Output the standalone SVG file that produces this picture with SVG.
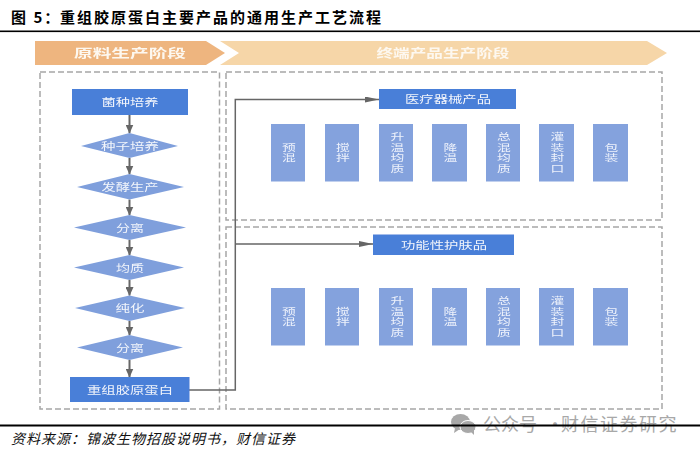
<svg xmlns="http://www.w3.org/2000/svg" width="700" height="452" viewBox="0 0 700 452">
<style>
text{font-family:"Noto Sans CJK SC","Noto Sans",sans-serif;text-anchor:middle}
.box{fill:#fff;stroke:#a6a6a6;stroke-width:1.5;stroke-dasharray:6 3}
.main{fill:#4a7fd8}
.dia{fill:#7f9fdc}
.step{fill:#84a2dd}
.lab{fill:#f2f5fb;font-size:10.500px}
.sl{fill:#eef2fb;font-size:9.500px;transform-box:fill-box;transform-origin:center;transform:scaleX(1.45)}
.ban{fill:#fdf8f0;font-size:12.500px;font-weight:700}
.con{fill:none;stroke:#666;stroke-width:1.500}
.vert{fill:none;stroke:#666;stroke-width:2;marker-end:url(#a)}
</style>
<defs>
<marker id="a" markerUnits="userSpaceOnUse" markerWidth="9" markerHeight="8" refX="8.500" refY="4" orient="auto"><path d="M0 0L9 4L0 8Z" fill="#666"/></marker>
<marker id="b" markerUnits="userSpaceOnUse" markerWidth="14" markerHeight="6" refX="14" refY="3" orient="auto"><path d="M0 0L14 3L0 6Z" fill="#666"/></marker>
<filter id="s" x="-2%" y="-2%" width="104%" height="104%"><feGaussianBlur stdDeviation="0.4"/></filter>
</defs>
<rect width="700" height="452" fill="#fff"/>
<g id="title">
<text x="11" y="23" style="text-anchor:start;font-size:15px;font-weight:700" fill="#000"><tspan style="letter-spacing:2px">图 5：</tspan><tspan x="60" style="letter-spacing:2px">重组胶原蛋白主要产品的通用生产工艺流程</tspan></text>
<rect x="0" y="30.500" width="700" height="1.600" fill="#000"/>
</g>
<g id="stages" filter="url(#s)">
<path d="M35 41H206L225 53L206 65H35Z" fill="#eeb57f"/>
<path d="M220 41H647L667 53L647 65H220L239 53Z" fill="#f6d6a8"/>
<text class="ban" x="130" y="57.500" textLength="112" lengthAdjust="spacingAndGlyphs">原料生产阶段</text>
<text class="ban" x="443" y="57.500" textLength="133" lengthAdjust="spacingAndGlyphs">终端产品生产阶段</text>
</g>
<g id="panels">
<rect class="box" x="40" y="72" width="179.500" height="337"/>
<rect class="box" x="226" y="72" width="436" height="148"/>
<rect class="box" x="226" y="227" width="436" height="182"/>
</g>
<g id="connectors">
<path class="vert" d="M129.500 115V133"/>
<path class="vert" d="M129.500 158V174"/>
<path class="vert" d="M129.500 199.500V215"/>
<path class="vert" d="M129.500 240V255"/>
<path class="vert" d="M129.500 280V295.500"/>
<path class="vert" d="M129.500 321V335"/>
<path class="vert" d="M129.500 360V377"/>
<path class="con" d="M189 390H235.300V99.500H379" marker-end="url(#b)"/>
<path class="con" d="M235.300 244H373" marker-end="url(#b)"/>
</g>
<g filter="url(#s)">
<g id="n1"><rect class="main" x="72" y="89" width="116" height="26"/><text class="lab" x="130" y="106" textLength="57" lengthAdjust="spacingAndGlyphs">菌种培养</text></g>
<g id="n2"><path class="dia" d="M81 146L129.500 133L178 146L129.500 158Z"/><text class="lab" x="130" y="150" textLength="58" lengthAdjust="spacingAndGlyphs">种子培养</text></g>
<g id="n3"><path class="dia" d="M77 187L129.500 174L184 187L129.500 199.500Z"/><text class="lab" x="130" y="190.500" textLength="57" lengthAdjust="spacingAndGlyphs">发酵生产</text></g>
<g id="n4"><path class="dia" d="M74 227.500L129.500 215L186 227.500L129.500 240Z"/><text class="lab" x="130" y="231.500" textLength="28" lengthAdjust="spacingAndGlyphs">分离</text></g>
<g id="n5"><path class="dia" d="M74 267.500L129.500 255L184 267.500L129.500 280Z"/><text class="lab" x="130" y="271.500" textLength="28" lengthAdjust="spacingAndGlyphs">均质</text></g>
<g id="n6"><path class="dia" d="M75 308L129.500 295.500L185 308L129.500 321Z"/><text class="lab" x="130" y="312" textLength="29" lengthAdjust="spacingAndGlyphs">纯化</text></g>
<g id="n7"><path class="dia" d="M77 347.500L129.500 335L183 347.500L129.500 360Z"/><text class="lab" x="130" y="351.500" textLength="28" lengthAdjust="spacingAndGlyphs">分离</text></g>
<g id="n8"><rect class="main" x="70" y="377" width="119.500" height="25"/><text class="lab" x="130" y="393.500" textLength="86" lengthAdjust="spacingAndGlyphs">重组胶原蛋白</text></g>
<g id="p1"><rect class="main" x="379" y="89" width="137" height="20"/><text class="lab" x="448" y="103" textLength="86" lengthAdjust="spacingAndGlyphs">医疗器械产品</text></g>
<g id="p2"><rect class="main" x="373" y="234.500" width="141" height="20.500"/><text class="lab" x="444" y="248.500" textLength="86" lengthAdjust="spacingAndGlyphs">功能性护肤品</text></g>
<g id="a1"><rect class="step" x="271" y="124" width="34" height="57.500"/><text class="sl" x="289" y="151">预</text><text class="sl" x="289" y="161.500">混</text></g>
<g id="a2"><rect class="step" x="325" y="124" width="34" height="57.500"/><text class="sl" x="343" y="151">搅</text><text class="sl" x="343" y="161.500">拌</text></g>
<g id="a3"><rect class="step" x="379" y="124" width="34" height="57.500"/><text class="sl" x="397.500" y="140">升</text><text class="sl" x="397.500" y="151">温</text><text class="sl" x="397.500" y="161.500">均</text><text class="sl" x="397.500" y="172">质</text></g>
<g id="a4"><rect class="step" x="432" y="124" width="35" height="57.500"/><text class="sl" x="450.500" y="151">降</text><text class="sl" x="450.500" y="161.500">温</text></g>
<g id="a5"><rect class="step" x="486" y="124" width="34" height="57.500"/><text class="sl" x="504" y="140">总</text><text class="sl" x="504" y="151">混</text><text class="sl" x="504" y="161.500">均</text><text class="sl" x="504" y="172">质</text></g>
<g id="a6"><rect class="step" x="539" y="124" width="35" height="57.500"/><text class="sl" x="557.500" y="140">灌</text><text class="sl" x="557.500" y="151">装</text><text class="sl" x="557.500" y="161.500">封</text><text class="sl" x="557.500" y="172">口</text></g>
<g id="a7"><rect class="step" x="593" y="124" width="35" height="57.500"/><text class="sl" x="611.500" y="151">包</text><text class="sl" x="611.500" y="161.500">装</text></g>
<g id="b1"><rect class="step" x="271" y="288" width="34" height="57.500"/><text class="sl" x="289" y="315">预</text><text class="sl" x="289" y="325.500">混</text></g>
<g id="b2"><rect class="step" x="325" y="288" width="34" height="57.500"/><text class="sl" x="343" y="315">搅</text><text class="sl" x="343" y="325.500">拌</text></g>
<g id="b3"><rect class="step" x="379" y="288" width="34" height="57.500"/><text class="sl" x="397.500" y="304">升</text><text class="sl" x="397.500" y="315">温</text><text class="sl" x="397.500" y="325.500">均</text><text class="sl" x="397.500" y="336">质</text></g>
<g id="b4"><rect class="step" x="432" y="288" width="35" height="57.500"/><text class="sl" x="450.500" y="315">降</text><text class="sl" x="450.500" y="325.500">温</text></g>
<g id="b5"><rect class="step" x="486" y="288" width="34" height="57.500"/><text class="sl" x="504" y="304">总</text><text class="sl" x="504" y="315">混</text><text class="sl" x="504" y="325.500">均</text><text class="sl" x="504" y="336">质</text></g>
<g id="b6"><rect class="step" x="539" y="288" width="35" height="57.500"/><text class="sl" x="557.500" y="304">灌</text><text class="sl" x="557.500" y="315">装</text><text class="sl" x="557.500" y="325.500">封</text><text class="sl" x="557.500" y="336">口</text></g>
<g id="b7"><rect class="step" x="593" y="288" width="35" height="57.500"/><text class="sl" x="611.500" y="315">包</text><text class="sl" x="611.500" y="325.500">装</text></g>
</g>
<g id="watermark" fill="#a8a8a8">
<ellipse cx="460.500" cy="422" rx="9.500" ry="8"/>
<path d="M455 428L454 433L460 429Z"/>
<ellipse cx="468" cy="427" rx="8" ry="6.500" stroke="#fff" stroke-width="1"/>
<path d="M471 432L474 435L474 430Z"/>
<text x="483" y="431" style="text-anchor:start;font-size:18px"><tspan>公众号</tspan><tspan x="546">·</tspan><tspan x="561" style="letter-spacing:1.500px">财信证券研究</tspan></text>
</g>
<g id="footer">
<rect x="0" y="424.500" width="700" height="2" fill="#000"/>
<text x="11" y="444" style="text-anchor:start;font-size:14px;font-style:italic;letter-spacing:1px" fill="#111">资料来源：锦波生物招股说明书，财信证券</text>
</g>
</svg>
